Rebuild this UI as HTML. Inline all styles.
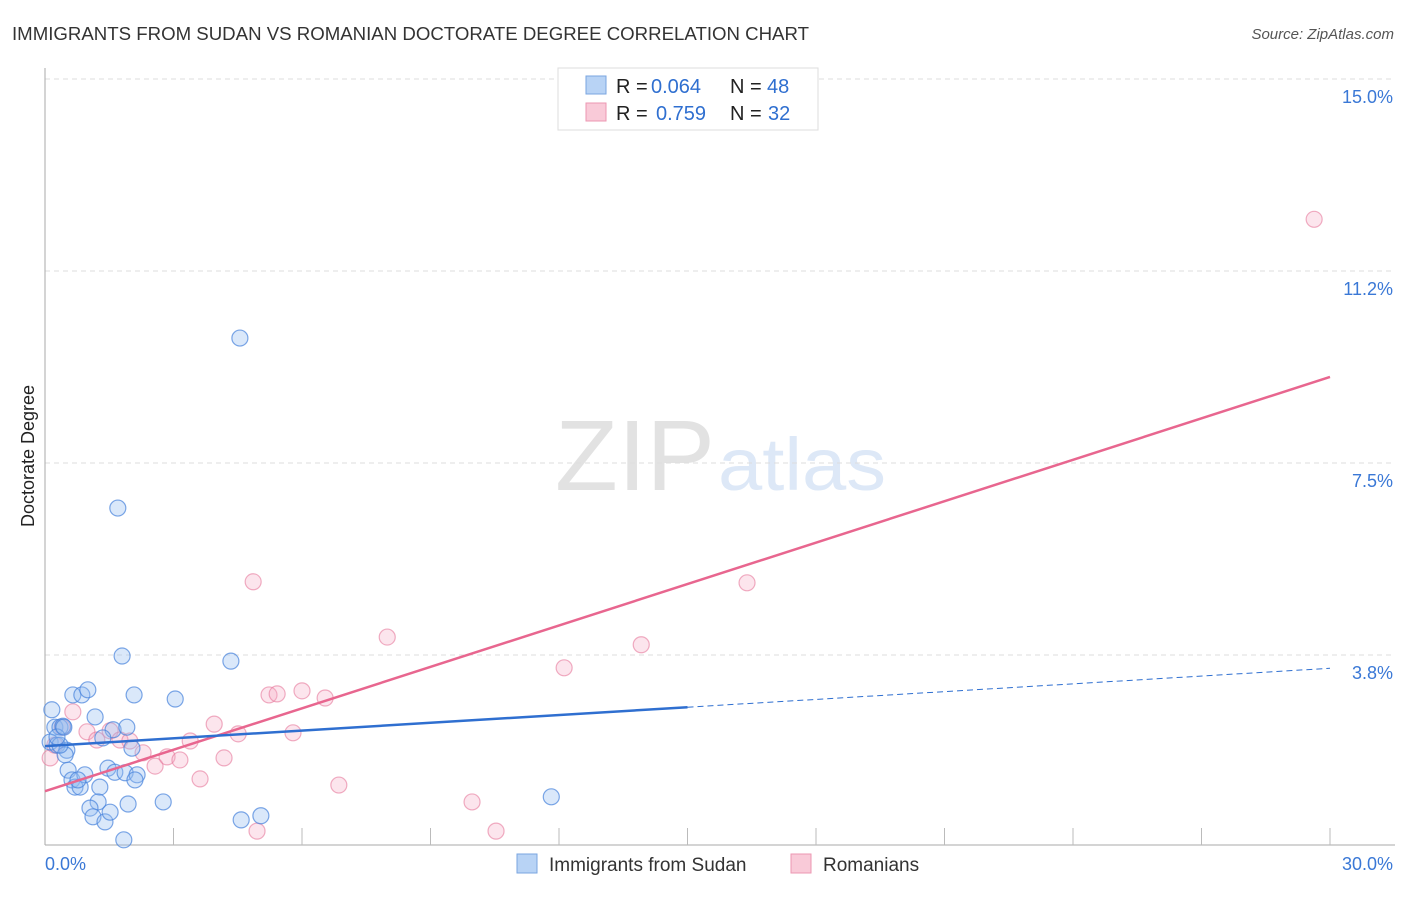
<!DOCTYPE html>
<html><head><meta charset="utf-8"><style>
body{margin:0;background:#fff;font-family:"Liberation Sans",sans-serif}
svg text{font-family:"Liberation Sans",sans-serif}
</style></head><body>
<svg id="c" width="1406" height="892">
<text x="12" y="40" font-size="18" fill="#333" textLength="797" lengthAdjust="spacingAndGlyphs">IMMIGRANTS FROM SUDAN VS ROMANIAN DOCTORATE DEGREE CORRELATION CHART</text>
<text x="1394" y="39" font-size="15" font-style="italic" fill="#555" text-anchor="end">Source: ZipAtlas.com</text>
<text x="34" y="456" font-size="18" fill="#222" text-anchor="middle" transform="rotate(-90 34 456)">Doctorate Degree</text>
<text x="555" y="490" font-size="100" fill="#e2e2e2" textLength="160" lengthAdjust="spacingAndGlyphs" font-family="Liberation Serif">ZIP</text>
<text x="718" y="490" font-size="74" fill="#dde8f7" textLength="168" lengthAdjust="spacingAndGlyphs">atlas</text>
<g id="grid"></g><g id="pts"></g><g id="lines"></g>
<g>
<rect x="558" y="68" width="260" height="62" fill="#fff" stroke="#ddd"/>
<rect x="586" y="76" width="20" height="18" fill="#b8d3f5" stroke="#7aa6e0"/>
<text x="616" y="93" font-size="20" fill="#222">R =</text>
<text x="651" y="93" font-size="20" fill="#2f6fd0">0.064</text>
<text x="730" y="93" font-size="20" fill="#222">N =</text>
<text x="767" y="93" font-size="20" fill="#2f6fd0">48</text>
<rect x="586" y="103" width="20" height="18" fill="#f9cad8" stroke="#ec97b2"/>
<text x="616" y="120" font-size="20" fill="#222">R =</text>
<text x="656" y="120" font-size="20" fill="#2f6fd0">0.759</text>
<text x="730" y="120" font-size="20" fill="#222">N =</text>
<text x="768" y="120" font-size="20" fill="#2f6fd0">32</text>
</g>
<g>
<rect x="517" y="854" width="20" height="19" fill="#b8d3f5" stroke="#7aa6e0"/>
<text x="549" y="871" font-size="19" fill="#333">Immigrants from Sudan</text>
<rect x="791" y="854" width="20" height="19" fill="#f9cad8" stroke="#ec97b2"/>
<text x="823" y="871" font-size="19" fill="#333">Romanians</text>
</g>
</svg>
<script>
const yTicks=[15.0,11.25,7.5,3.75];
const yTickLabels=["15.0%","11.2%","7.5%","3.8%"];
const xLabels=["0.0%","30.0%"];
const sudanX=[0.16,0.12,0.28,0.23,0.35,0.42,0.51,0.47,0.65,0.86,1.00,1.17,0.54,0.63,0.70,0.82,0.93,0.77,1.28,1.24,1.05,1.12,1.40,1.52,1.94,1.47,1.63,1.87,2.15,2.10,2.03,1.59,1.91,1.35,2.08,2.76,3.04,1.80,1.70,4.34,4.55,4.58,5.04,1.84,11.82,0.35,0.28,0.44];
const sudanY=[2.68,2.05,1.99,2.34,2.34,2.36,1.89,1.80,2.97,2.97,3.07,2.54,1.50,1.31,1.17,1.17,1.41,1.31,1.17,0.88,0.76,0.59,0.49,0.68,0.84,1.54,1.46,1.45,1.41,1.31,1.93,2.29,2.34,2.13,2.97,0.88,2.89,3.73,6.62,3.63,9.94,0.53,0.61,0.14,0.98,1.99,2.15,2.34];
const romX=[0.12,0.23,0.40,0.65,0.98,1.21,1.52,1.75,1.98,2.29,2.57,2.85,3.15,3.39,3.62,3.95,4.18,4.51,4.86,4.95,5.23,5.42,5.79,6.00,6.54,6.86,7.99,9.97,10.53,12.12,13.92,16.39,29.63];
const romY=[1.74,1.99,2.34,2.64,2.25,2.09,2.27,2.09,2.07,1.84,1.58,1.76,1.70,2.07,1.33,2.40,1.74,2.21,5.18,0.31,2.97,2.99,2.23,3.05,2.91,1.21,4.10,0.88,0.31,3.50,3.95,5.16,12.26];
const sudanTrend=[1.97,0.0507];
const romTrend=[1.09,0.2697];
const NS="http://www.w3.org/2000/svg";
const X=v=>45+v/30*1285, Y=v=>847-v*51.2;
function mk(t,a,p){const e=document.createElementNS(NS,t);for(const k in a)e.setAttribute(k,a[k]);p.appendChild(e);return e;}
const g=document.getElementById('grid');
yTicks.forEach((t,i)=>{
 const l=mk('line',{x1:45,x2:1395,y1:Y(t),y2:Y(t),stroke:'#ddd','stroke-dasharray':'5,4'},g);
 
 
 const tx=mk('text',{x:1393,y:Y(t)+24,'font-size':18,fill:'#3a78d6','text-anchor':'end'},g);
 tx.textContent=yTickLabels[i];
 
 
});
mk('line',{x1:45,x2:45,y1:68,y2:845,stroke:'#aaa'},g);
mk('line',{x1:45,x2:1395,y1:845,y2:845,stroke:'#aaa'},g);
for(let i=1;i<=10;i++){mk('line',{x1:X(i*3),x2:X(i*3),y1:828,y2:845,stroke:'#bbb'},g);}
[[0,45,'start'],[1,1393,'end']].forEach(([i,x,a])=>{const t=mk('text',{x:x,y:870,'font-size':18,fill:'#3a78d6','text-anchor':a},g);t.textContent=xLabels[i];
 
 });
const p=document.getElementById('pts');
romX.forEach((x,i)=>{const c=mk('circle',{cx:X(x),cy:Y(romY[i]),r:8,fill:'rgba(246,170,195,0.3)',stroke:'rgba(230,120,155,0.6)','stroke-width':1.2},p);
 
 });
sudanX.forEach((x,i)=>{const c=mk('circle',{cx:X(x),cy:Y(sudanY[i]),r:8,fill:'rgba(150,190,240,0.35)',stroke:'rgba(70,130,220,0.7)','stroke-width':1.2},p);
 
 });
const L=document.getElementById('lines');
const f=(t,x)=>t[0]+t[1]*x;
let a=mk('line',{x1:X(0),y1:Y(f(romTrend,0)),x2:X(30),y2:Y(f(romTrend,30)),stroke:'#e8668f','stroke-width':2.5},L);


a=mk('line',{x1:X(0),y1:Y(f(sudanTrend,0)),x2:X(15),y2:Y(f(sudanTrend,15)),stroke:'#2f6fd0','stroke-width':2.5},L);


a=mk('line',{x1:X(15),y1:Y(f(sudanTrend,15)),x2:X(30),y2:Y(f(sudanTrend,30)),stroke:'#2f6fd0','stroke-width':1,'stroke-dasharray':'6,4'},L);


</script>
</body></html>
